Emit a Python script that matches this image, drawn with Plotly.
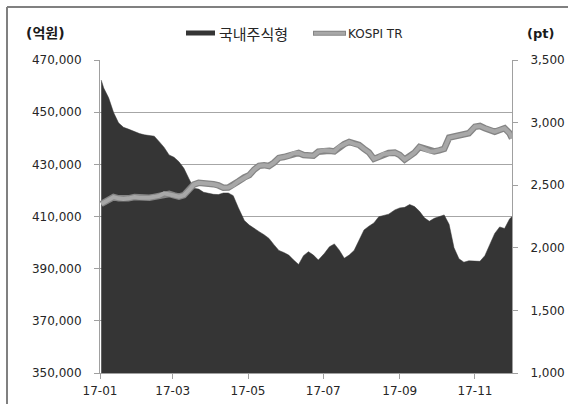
import plotly.graph_objects as go

dates = [
    "2017-01-02", "2017-01-04", "2017-01-08", "2017-01-12", "2017-01-16", "2017-01-20",
    "2017-01-24", "2017-01-29", "2017-02-02", "2017-02-06", "2017-02-10", "2017-02-14",
    "2017-02-18", "2017-02-22", "2017-02-26", "2017-03-02", "2017-03-06", "2017-03-10",
    "2017-03-14", "2017-03-18", "2017-03-22", "2017-03-26", "2017-03-30", "2017-04-03",
    "2017-04-07", "2017-04-11", "2017-04-15", "2017-04-19", "2017-04-23", "2017-04-28",
    "2017-05-02", "2017-05-06", "2017-05-10", "2017-05-14", "2017-05-18", "2017-05-22",
    "2017-05-26", "2017-05-30", "2017-06-03", "2017-06-07", "2017-06-11", "2017-06-15",
    "2017-06-19", "2017-06-23", "2017-06-27", "2017-07-02", "2017-07-06", "2017-07-10",
    "2017-07-14", "2017-07-18", "2017-07-22", "2017-07-26", "2017-07-30", "2017-08-03",
    "2017-08-07", "2017-08-11", "2017-08-15", "2017-08-19", "2017-08-23", "2017-08-28",
    "2017-09-01", "2017-09-05", "2017-09-09", "2017-09-13", "2017-09-17", "2017-09-21",
    "2017-09-25", "2017-09-29", "2017-10-03", "2017-10-07", "2017-10-11", "2017-10-15",
    "2017-10-19", "2017-10-23", "2017-10-27", "2017-11-01", "2017-11-05", "2017-11-09",
    "2017-11-13", "2017-11-17", "2017-11-21", "2017-11-25", "2017-11-29", "2017-12-01",
]

# 국내주식형 설정액 (억원)
fund_aum = [
    462300, 459300, 455500, 449900, 445900, 444200,
    443500, 442500, 441800, 441300, 441000, 440800,
    438700, 436500, 433600, 432700, 431000, 428500,
    424600, 420800, 420500, 419300, 418900, 418500,
    418400, 419000, 419000, 418000, 413500, 408500,
    406700, 405300, 404200, 403000, 401600, 399200,
    397000, 396200, 395200, 393300, 391600, 395000,
    396500, 395200, 393300, 395900, 398400, 399500,
    397100, 394000, 395200, 397000, 401000, 404800,
    406300, 407500, 409900, 410400, 410900, 412500,
    413300, 413500, 414600, 413800, 412000, 409500,
    408200, 409300, 410000, 410600, 407000, 398000,
    393800, 392500, 393000, 393000, 392800, 395000,
    399000, 403500, 406000, 405400, 409000, 410000,
]

# KOSPI TR (pt)
kospi_tr = [
    2350, 2362, 2390, 2405, 2395, 2389,
    2395, 2405, 2400, 2397, 2400, 2407,
    2415, 2435, 2430, 2418, 2408, 2420,
    2460, 2505, 2519, 2518, 2512, 2508,
    2498, 2480, 2482, 2500, 2530, 2562,
    2581, 2625, 2655, 2660, 2653, 2680,
    2718, 2725, 2735, 2755, 2758, 2741,
    2738, 2735, 2768, 2778, 2775, 2770,
    2808, 2828, 2845, 2830, 2821, 2790,
    2762, 2710, 2725, 2750, 2757, 2760,
    2741, 2705, 2730, 2760, 2805, 2790,
    2772, 2770, 2778, 2790, 2880, 2888,
    2893, 2900, 2915, 2967, 2973, 2955,
    2941, 2927, 2941, 2955, 2915, 2875,
]

x_tickvals = ["2017-01-01", "2017-03-01", "2017-05-01", "2017-07-01", "2017-09-01", "2017-11-01"]
x_ticktext = ["17-01", "17-03", "17-05", "17-07", "17-09", "17-11"]
left_ticks = [350000, 370000, 390000, 410000, 430000, 450000, 470000]
right_ticks = [1000, 1500, 2000, 2500, 3000, 3500]

W, H = 568, 404
ML, MR, MT, MB = 100, 56, 60, 31
PW, PH = W - ML - MR, H - MT - MB


def px(xp):
    return (xp - ML) / PW


def py(yp):
    return (H - MB - yp) / PH


fig = go.Figure()
fig.add_trace(go.Scatter(
    x=dates, y=fund_aum, name="국내주식형", mode="lines",
    line=dict(color="#353535", width=0.5), fill="tozeroy", fillcolor="#353535",
    yaxis="y", showlegend=False,
))
fig.add_trace(go.Scatter(
    x=dates, y=kospi_tr, name="KOSPI TR", mode="lines",
    line=dict(color="#858585", width=6.5), yaxis="y2", showlegend=False, hoverinfo="skip",
))
fig.add_trace(go.Scatter(
    x=dates, y=kospi_tr, name="KOSPI TR", mode="lines",
    line=dict(color="#a8a8a8", width=4), yaxis="y2", showlegend=False,
))

tick_font = dict(family="DejaVu Sans", size=12, color="#262626")

fig.update_layout(
    width=W, height=H,
    margin=dict(l=ML, r=MR, t=MT, b=MB, autoexpand=False),
    paper_bgcolor="white", plot_bgcolor="white",
    xaxis=dict(
        type="date", range=["2017-01-01", "2017-12-01"],
        tickmode="array", tickvals=x_tickvals, ticktext=x_ticktext,
        ticks="outside", ticklen=5, tickcolor="#a0a0a0",
        showline=True, linecolor="#a0a0a0", linewidth=1,
        showgrid=False, zeroline=False, tickfont=tick_font,
        ticklabelstandoff=2, automargin=False,
    ),
    yaxis=dict(
        range=[350000, 470000], tickmode="array", tickvals=left_ticks,
        tickformat=",d", ticks="outside", ticklen=5, tickcolor="#a0a0a0",
        showline=True, linecolor="#a0a0a0", linewidth=1,
        showgrid=True, gridcolor="#a6a6a6", gridwidth=1, zeroline=False,
        tickfont=tick_font, ticklabelstandoff=10, automargin=False,
    ),
    yaxis2=dict(
        range=[1000, 3500], tickmode="array", tickvals=right_ticks,
        tickformat=",d", overlaying="y", side="right",
        ticks="outside", ticklen=5, tickcolor="#a0a0a0",
        showline=True, linecolor="#a0a0a0", linewidth=1,
        showgrid=False, zeroline=False, tickfont=tick_font, ticklabelstandoff=10,
        automargin=False,
    ),
    showlegend=False,
)

# outer frame (left and top edges visible)
fig.add_shape(type="line", xref="paper", yref="paper",
              x0=px(7), x1=px(7), y0=py(7), y1=py(440),
              line=dict(color="#808080", width=2))
fig.add_shape(type="line", xref="paper", yref="paper",
              x0=px(7), x1=px(600), y0=py(7), y1=py(7),
              line=dict(color="#808080", width=2))

# axis unit titles
fig.add_annotation(text="<b>(억원)</b>", xref="paper", yref="paper",
                   x=px(45), y=py(33), xanchor="center", yanchor="middle", showarrow=False,
                   font=dict(family="DejaVu Sans, Noto Sans CJK KR", size=14, color="#1a1a1a"))
fig.add_annotation(text="<b>(pt)</b>", xref="paper", yref="paper",
                   x=px(540), y=py(33), xanchor="center", yanchor="middle", showarrow=False,
                   font=dict(family="DejaVu Sans", size=13, color="#1a1a1a"))

# legend
fig.add_shape(type="rect", xref="paper", yref="paper",
              x0=px(186), x1=px(215), y0=py(35.5), y1=py(30.5),
              line=dict(width=0), fillcolor="#353535")
fig.add_annotation(text="국내주식형", xref="paper", yref="paper",
                   x=px(217), y=py(33.5), xanchor="left", yanchor="middle", showarrow=False,
                   font=dict(family="Noto Sans CJK KR", size=15, color="#262626"))
fig.add_shape(type="line", xref="paper", yref="paper",
              x0=px(313), x1=px(346), y0=py(33.3), y1=py(33.3),
              line=dict(color="#858585", width=5))
fig.add_shape(type="line", xref="paper", yref="paper",
              x0=px(314), x1=px(345), y0=py(33.3), y1=py(33.3),
              line=dict(color="#a8a8a8", width=3))
fig.add_annotation(text="KOSPI TR", xref="paper", yref="paper",
                   x=px(346), y=py(33.5), xanchor="left", yanchor="middle", showarrow=False,
                   font=dict(family="DejaVu Sans", size=12, color="#262626"))

fig.write_html("out.html")
